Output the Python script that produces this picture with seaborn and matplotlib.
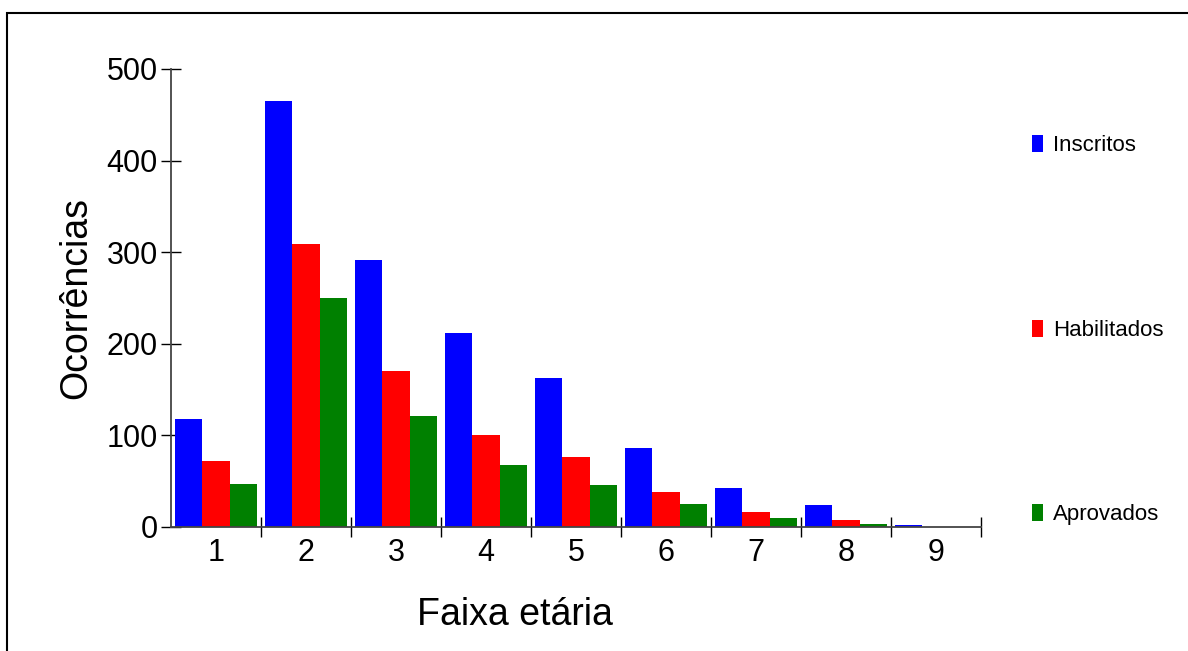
import numpy as np
import matplotlib
matplotlib.use('Agg')
import matplotlib.pyplot as plt
import matplotlib.patches as mpatches
import pandas as pd
import seaborn as sns

faixas = ['1', '2', '3', '4', '5', '6', '7', '8', '9']
inscritos = [118, 465, 291, 212, 163, 86, 43, 24, 2]
habilitados = [72, 309, 170, 100, 76, 38, 16, 8, 0]
aprovados = [47, 250, 121, 68, 46, 25, 10, 3, 0]
grupos = ['Inscritos', 'Habilitados', 'Aprovados']
cores = ['#0000ff', '#ff0000', '#008000']

df = pd.DataFrame({
    'faixa': faixas * 3,
    'n': inscritos + habilitados + aprovados,
    'grupo': np.repeat(grupos, len(faixas)),
})

sns.set_style('white')
plt.rcParams['font.family'] = ['Liberation Sans', 'DejaVu Sans']
plt.rcParams['text.color'] = 'black'
plt.rcParams['axes.labelcolor'] = 'black'
plt.rcParams['xtick.color'] = 'black'
plt.rcParams['ytick.color'] = 'black'

fig = plt.figure(figsize=(11.88, 6.51), dpi=100)
ax = fig.add_axes([171/1188, 1-527/651, 810/1188, 458/651])

sns.barplot(data=df, x='faixa', y='n', hue='grupo', palette=cores,
            width=0.91, saturation=1, ax=ax, linewidth=0)

ax.set_xlim(-0.5, 8.5)
ax.set_ylim(0, 500)
ax.set_yticks([0, 100, 200, 300, 400, 500])
ax.set_xticks(range(9))
ax.set_xticklabels(faixas)
ax.set_xticks(np.arange(0.5, 8.6, 1), minor=True)
ax.tick_params(axis='x', which='major', length=0, labelsize=22, pad=8)
ax.tick_params(axis='x', which='minor', direction='inout', length=15,
               width=1, color='black', bottom=True)
ax.tick_params(axis='y', direction='inout', length=15, width=1,
               color='black', labelsize=22, pad=2, left=True)

for s in ['top', 'right']:
    ax.spines[s].set_visible(False)
for s in ['left', 'bottom']:
    ax.spines[s].set_color('#444444')
    ax.spines[s].set_linewidth(1.3)

ax.set_xlabel('Faixa etária', fontsize=27)
ax.set_ylabel('Ocorrências', fontsize=27)
ax.xaxis.set_label_coords(0.425, -0.152)
ax.yaxis.set_label_coords(-0.095, 0.5)

handles, labels = ax.get_legend_handles_labels()
ax.legend(handles, labels, loc='upper left', frameon=False,
          bbox_to_anchor=(1032/1188, 1-135/651), bbox_transform=fig.transFigure,
          fontsize=16, handlelength=0.5, handleheight=0.8, handletextpad=0.45,
          labelspacing=7.35, borderpad=0, borderaxespad=0)

fig.patches.append(mpatches.Rectangle((7/1188, -0.05), 1.1, 1-13/651+0.05,
                                      transform=fig.transFigure, fill=False,
                                      edgecolor='black', linewidth=1.5))

fig.savefig('out.png', dpi=100)
